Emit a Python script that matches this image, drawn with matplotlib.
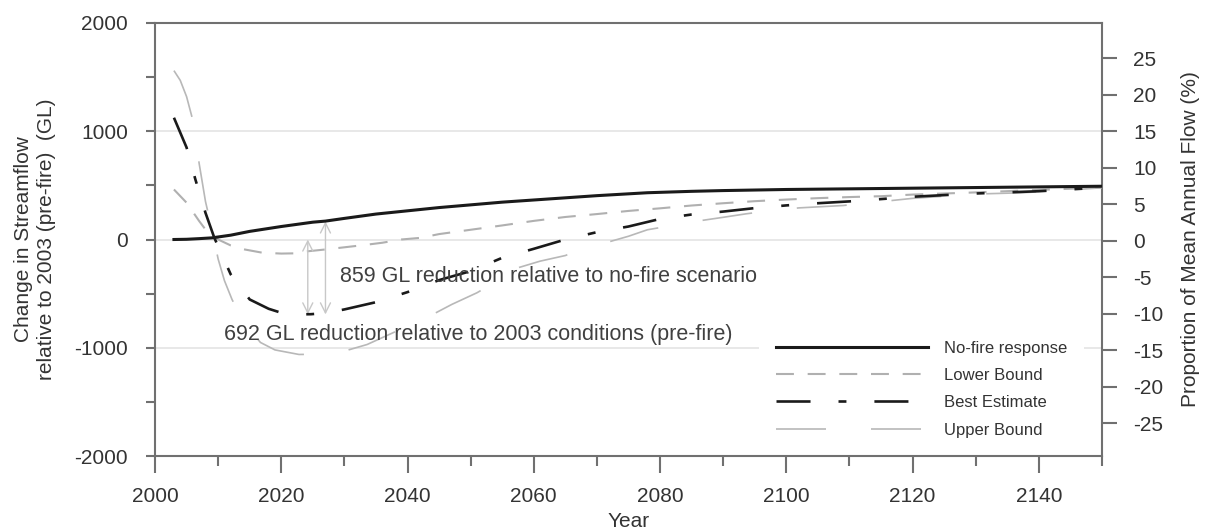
import matplotlib
matplotlib.use("Agg")
import matplotlib.pyplot as plt
from matplotlib.ticker import MultipleLocator, FuncFormatter
from matplotlib.lines import Line2D

plt.rcParams['font.family'] = ['Liberation Sans', 'DejaVu Sans']
plt.rcParams['axes.unicode_minus'] = False

# ---- data (GL change relative to 2003) ----
nofire_years = [2003, 2005, 2007, 2009, 2012, 2015, 2020, 2025, 2027, 2030, 2035, 2040, 2045,
                2050, 2055, 2060, 2065, 2070, 2078, 2085, 2090, 2100, 2110, 2120, 2130, 2140, 2150]
nofire_vals = [0, 2, 8, 15, 40, 75, 120, 160, 170, 195, 235, 265, 295,
               320, 345, 365, 385, 405, 432, 445, 452, 462, 468, 474, 480, 486, 492]

lower_years = [2003, 2005, 2007, 2008, 2010, 2012, 2014, 2017, 2020, 2022, 2024, 2027, 2030,
               2033, 2036, 2039, 2042, 2045, 2050, 2055, 2060, 2065, 2070, 2075, 2080, 2085,
               2090, 2095, 2100, 2105, 2110, 2115, 2120, 2130, 2140, 2150]
lower_vals = [462, 340, 170, 92, 0, -55, -90, -122, -130, -128, -110, -92, -72,
              -52, -30, 0, 15, 50, 90, 130, 172, 208, 235, 264, 288, 314,
              335, 354, 369, 382, 392, 400, 415, 435, 458, 480]

best_years = [2003, 2005, 2006.4, 2008, 2009.4, 2012, 2015, 2018, 2020, 2022.5, 2024.7, 2027,
              2030, 2035, 2040, 2045, 2050, 2055, 2060, 2065, 2070, 2075, 2080, 2085, 2090,
              2095, 2100, 2105, 2110, 2120, 2130, 2140, 2150]
best_vals = [1125, 850, 554, 246, 15, -323, -554, -640, -677, -692, -690, -680,
             -646, -579, -486, -375, -292, -169, -86, 0, 68, 120, 190, 231, 258,
             290, 315, 335, 352, 395, 425, 446, 480]

upper_years = [2003, 2004, 2005, 2006, 2007, 2008, 2009, 2010, 2011, 2012.2, 2014, 2016.7,
               2019, 2022.8, 2026, 2030, 2033.6, 2037, 2040, 2044, 2047, 2051, 2054, 2057,
               2061, 2065, 2068, 2071.7, 2075, 2078, 2082, 2086.5, 2090, 2093.6, 2098, 2102,
               2109, 2115, 2120, 2130, 2137, 2143, 2150]
upper_vals = [1560, 1470, 1320, 1100, 700, 350, 100, -180, -380, -554, -760, -951,
              -1020, -1062, -1060, -1031, -970, -880, -800, -692, -600, -492, -390, -270,
              -200, -148, -80, -25, 30, 90, 130, 175, 205, 237, 270, 292,
              314, 350, 380, 420, 431, 450, 478]

series_labels = ["No-fire response", "Lower Bound", "Best Estimate", "Upper Bound"]
annot_nofire = "859 GL reduction relative to no-fire scenario"
annot_2003 = "692 GL reduction relative to 2003 conditions (pre-fire)"

txt = '#333333'
spine_c = '#707070'

fig = plt.figure(figsize=(12.14, 5.30), dpi=100)
ax = fig.add_axes([155/1214, 1-456/530, (1102-155)/1214, (456-23)/530])

# grid lines
for g in (-1000, 0, 1000):
    ax.axhline(g, color='#e6e6e6', lw=1.3, zorder=0)

# styles
s_nofire = dict(color='#1a1a1a', lw=2.2, ls='-')
s_lower = dict(color='#b0b0b0', lw=1.5, ls=(0, (8.6, 6.6)))
s_best = dict(color='#1a1a1a', lw=1.9, ls=(0, (12.9, 10.6, 3.0, 10.6)))
s_upper = dict(color='#b8b8b8', lw=1.2, ls=(0, (30, 27)))

ax.plot(upper_years, upper_vals, zorder=2, **s_upper)
ax.plot(lower_years, lower_vals, zorder=3, **s_lower)
ax.plot(best_years, best_vals, zorder=4, **s_best)
ax.plot(nofire_years, nofire_vals, zorder=5, **s_nofire)

# arrows
arr = dict(arrowstyle='<->', color='#c8c8c8', lw=1.0, shrinkA=0, shrinkB=0,
           mutation_scale=18)
ax.annotate('', xy=(2024.2, -692), xytext=(2024.2, 0), arrowprops=arr)
ax.annotate('', xy=(2027.0, -692), xytext=(2027.0, 167), arrowprops=arr)

ax.text(2029.3, -340, annot_nofire, fontsize=15.5, color='#404040', va='center', ha='left', zorder=6)
ax.text(2010.9, -880, annot_2003, fontsize=15.5, color='#404040', va='center', ha='left', zorder=6)

ax.set_xlim(2000, 2150)
ax.set_ylim(-2000, 2000)
ax.xaxis.set_major_locator(MultipleLocator(20))
ax.xaxis.set_minor_locator(MultipleLocator(10))
ax.yaxis.set_major_locator(MultipleLocator(1000))
ax.yaxis.set_minor_locator(MultipleLocator(500))
ax.yaxis.set_major_formatter(FuncFormatter(lambda v, p: f"{int(v)}"))

ax.tick_params(axis='x', which='major', length=12, width=1.5, color=spine_c, pad=10,
               labelsize=15, labelcolor=txt)
ax.tick_params(axis='x', which='minor', length=7, width=1.5, color=spine_c)
ax.tick_params(axis='y', which='both', length=6.5, width=1.5, color=spine_c)
ax.tick_params(axis='y', which='major', pad=13, labelsize=15, labelcolor=txt)
for sp in ax.spines.values():
    sp.set_color(spine_c)
    sp.set_linewidth(1.5)

ax.set_xlabel("Year", fontsize=15, color=txt)
ax.xaxis.set_label_coords(0.5, -0.129)
ax.set_ylabel("Change in Streamflow\nrelative to 2003 (pre-fire)  (GL)", fontsize=15,
              color=txt, linespacing=1.25)
ax.yaxis.set_label_coords(-0.1045, 0.5)

# right axis
ax2 = ax.twinx()
ax2.set_ylim(-29.5, 29.8)
ax2.set_yticks(list(range(-25, 30, 5)))
ax2.tick_params(axis='y', length=11, width=1.5, color=spine_c, pad=11.5, labelsize=15,
                labelcolor=txt)
for sp in ax2.spines.values():
    sp.set_visible(False)
ax2.set_ylabel("Proportion of Mean Annual Flow (%)", fontsize=15, color=txt)
ax2.yaxis.set_label_coords(1.0835, 0.5)

# legend
handles = [Line2D([], [], **s_nofire), Line2D([], [], **s_lower),
           Line2D([], [], **s_best), Line2D([], [], **s_upper)]
leg = ax.legend(handles, series_labels, loc='upper left', bbox_to_anchor=(0.638, 0.305),
                borderaxespad=0, borderpad=1.0, handlelength=9.1, handletextpad=1.0,
                labelspacing=0.74, fontsize=12, frameon=True, fancybox=False,
                edgecolor='none', facecolor='white', framealpha=1)
for t in leg.get_texts():
    t.set_color(txt)
leg.set_zorder(10)

fig.savefig("out.png", dpi=100)
